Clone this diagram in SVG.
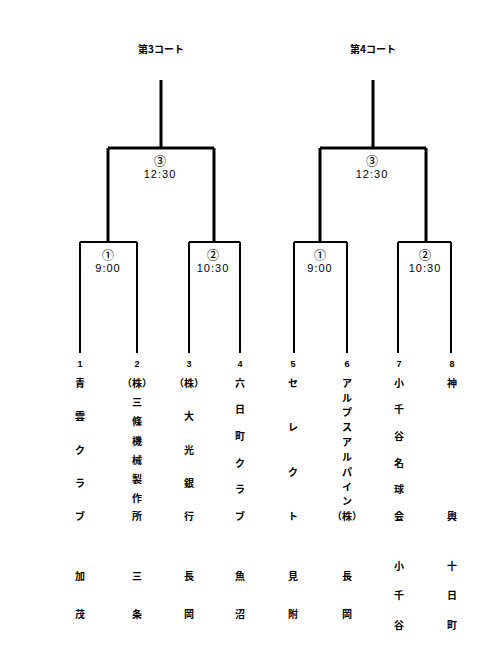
<svg xmlns="http://www.w3.org/2000/svg" width="480" height="650" viewBox="0 0 480 650">
<style>
.t{font-family:"Noto Sans CJK JP","Liberation Sans",sans-serif;font-weight:bold;font-size:10px;fill:#000;text-anchor:middle;dominant-baseline:central}
.m{font-family:"Liberation Sans","Noto Sans CJK JP",sans-serif;font-size:11px;fill:#000;text-anchor:middle;dominant-baseline:central;letter-spacing:1px}
.c{font-family:"Noto Sans CJK JP",sans-serif;font-size:12px;font-weight:500;fill:#000;text-anchor:middle;dominant-baseline:central}
.n{font-family:"Liberation Sans",sans-serif;font-weight:bold;font-size:9px;fill:#000;text-anchor:middle;dominant-baseline:central}
.thick{stroke:#000;stroke-width:3;fill:none}
.thin{stroke:#000;stroke-width:2;fill:none}
</style>
<rect width="480" height="650" fill="#fff"/>
<g id="connectors">
<path class="thick" d="M161 80V148M108 148H214M108 148V242M214 148V242"/>
<path class="thin" d="M80 242H137M80 242V353M137 242V353M189 242H240M189 242V353M240 242V353"/>
<path class="thick" d="M373 80V148M320 148H426M320 148V242M426 148V242"/>
<path class="thin" d="M294 242H347M294 242V353M347 242V353M398 242H451M398 242V353M451 242V353"/>
</g>
<g id="court3"><text class="t" x="161" y="48">第3コート</text></g>
<g id="court4"><text class="t" x="373" y="48">第4コート</text></g>
<g id="c3-final"><text class="c" x="160" y="160">③</text><text class="m" x="160" y="174">12:30</text></g>
<g id="c3-m1"><text class="c" x="108" y="254">①</text><text class="m" x="108" y="268">9:00</text></g>
<g id="c3-m2"><text class="c" x="213" y="254">②</text><text class="m" x="213" y="268">10:30</text></g>
<g id="c4-final"><text class="c" x="372" y="160">③</text><text class="m" x="372" y="174">12:30</text></g>
<g id="c4-m1"><text class="c" x="320" y="254">①</text><text class="m" x="320" y="268">9:00</text></g>
<g id="c4-m2"><text class="c" x="425" y="254">②</text><text class="m" x="425" y="268">10:30</text></g>
<g id="team1"><text class="n" x="80" y="364">1</text>
<text class="t" x="80" y="382">青</text><text class="t" x="80" y="415">雲</text><text class="t" x="80" y="449">ク</text><text class="t" x="80" y="482">ラ</text><text class="t" x="80" y="515">ブ</text>
<text class="t" x="80" y="575">加</text><text class="t" x="80" y="613">茂</text></g>
<g id="team2"><text class="n" x="137" y="364">2</text>
<text class="t" x="137" y="382">（株）</text><text class="t" x="137" y="401">三</text><text class="t" x="137" y="420">條</text><text class="t" x="137" y="440">機</text><text class="t" x="137" y="459">械</text><text class="t" x="137" y="478">製</text><text class="t" x="137" y="497">作</text><text class="t" x="137" y="515">所</text>
<text class="t" x="137" y="575">三</text><text class="t" x="137" y="613">条</text></g>
<g id="team3"><text class="n" x="189" y="364">3</text>
<text class="t" x="189" y="382">（株）</text><text class="t" x="189" y="415">大</text><text class="t" x="189" y="449">光</text><text class="t" x="189" y="482">銀</text><text class="t" x="189" y="515">行</text>
<text class="t" x="189" y="575">長</text><text class="t" x="189" y="613">岡</text></g>
<g id="team4"><text class="n" x="240" y="364">4</text>
<text class="t" x="240" y="382">六</text><text class="t" x="240" y="408">日</text><text class="t" x="240" y="435">町</text><text class="t" x="240" y="462">ク</text><text class="t" x="240" y="488">ラ</text><text class="t" x="240" y="515">ブ</text>
<text class="t" x="240" y="575">魚</text><text class="t" x="240" y="613">沼</text></g>
<g id="team5"><text class="n" x="293" y="364">5</text>
<text class="t" x="293" y="382">セ</text><text class="t" x="293" y="426">レ</text><text class="t" x="293" y="471">ク</text><text class="t" x="293" y="515">ト</text>
<text class="t" x="293" y="575">見</text><text class="t" x="293" y="613">附</text></g>
<g id="team6"><text class="n" x="347" y="364">6</text>
<text class="t" x="347" y="382">ア</text><text class="t" x="347" y="397">ル</text><text class="t" x="347" y="411">プ</text><text class="t" x="347" y="426">ス</text><text class="t" x="347" y="441">ア</text><text class="t" x="347" y="456">ル</text><text class="t" x="347" y="471">パ</text><text class="t" x="347" y="486">イ</text><text class="t" x="347" y="500">ン</text><text class="t" x="347" y="515">（株）</text>
<text class="t" x="347" y="575">長</text><text class="t" x="347" y="613">岡</text></g>
<g id="team7"><text class="n" x="399" y="364">7</text>
<text class="t" x="399" y="382">小</text><text class="t" x="399" y="408">千</text><text class="t" x="399" y="435">谷</text><text class="t" x="399" y="462">名</text><text class="t" x="399" y="488">球</text><text class="t" x="399" y="515">会</text>
<text class="t" x="399" y="565">小</text><text class="t" x="399" y="594">千</text><text class="t" x="399" y="624">谷</text></g>
<g id="team8"><text class="n" x="452" y="364">8</text>
<text class="t" x="452" y="382">神</text><text class="t" x="452" y="515">輿</text>
<text class="t" x="452" y="565">十</text><text class="t" x="452" y="594">日</text><text class="t" x="452" y="624">町</text></g>
</svg>
